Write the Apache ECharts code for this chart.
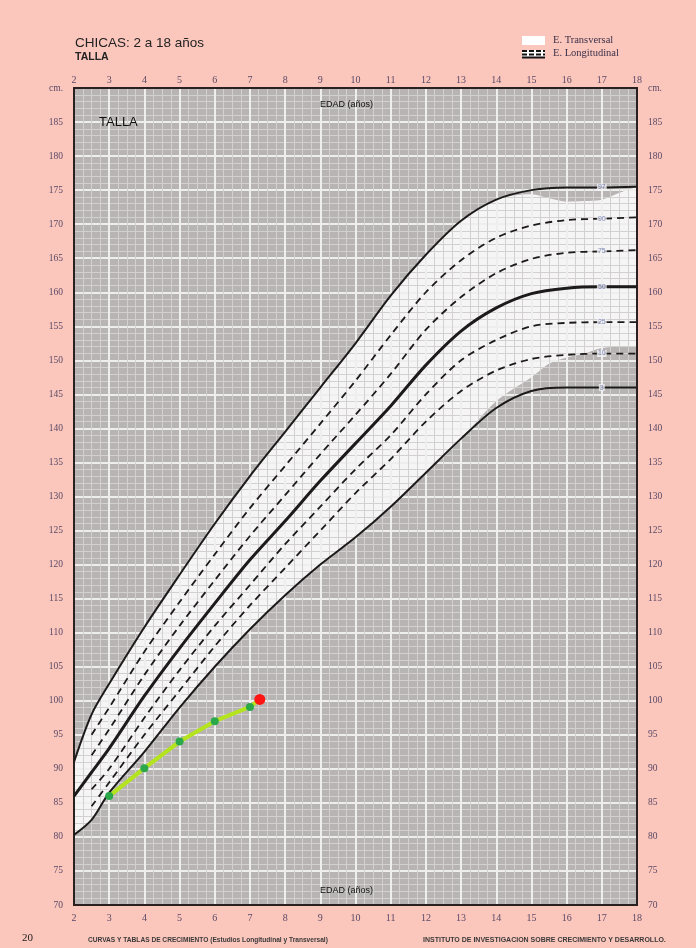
<!DOCTYPE html>
<html>
<head>
<meta charset="utf-8">
<script src="https://cdn.jsdelivr.net/npm/echarts@6/dist/echarts.min.js"></script>
<style>
  html, body { margin: 0; padding: 0; background: #fbc6bc; }
  #chart { width: 696px; height: 948px; }
</style>
</head>
<body>
<div id="chart"></div>
<script>
// Ages (years) at which the reference percentiles are tabulated
const AGES = [2, 2.5, 3, 4, 5, 6, 7, 8, 9, 10, 11, 12, 13, 14, 15, 16, 17, 18];

// Height percentiles, girls 2-18 years (cm); null = curve not drawn at that age
const P97 = [91.0, 98.0, 102.5, 110.8, 118.5, 126.0, 133.0, 139.5, 146.0, 152.5, 159.5, 165.5, 170.5, 173.6, 175.0, 175.4, 175.4, 175.5];
const P90 = [null, 95.0, 99.0, 107.2, 114.5, 121.5, 128.3, 134.5, 140.7, 147.0, 153.7, 160.0, 164.7, 168.0, 169.8, 170.6, 170.8, 171.0];
const P75 = [null, 92.0, 95.8, 103.8, 111.0, 117.7, 124.2, 130.2, 136.2, 142.0, 148.0, 154.5, 159.3, 162.8, 164.9, 165.8, 166.0, 166.2];
const P50 = [86.0, 89.5, 93.0, 100.7, 107.7, 114.3, 120.7, 126.4, 132.3, 137.8, 143.3, 149.3, 154.3, 157.7, 159.8, 160.6, 160.8, 160.8];
const P25 = [null, 87.0, 90.0, 97.5, 104.5, 111.0, 117.0, 123.0, 128.5, 134.0, 139.0, 145.0, 150.0, 153.0, 155.0, 155.5, 155.6, 155.6];
const P10 = [null, 84.5, 88.0, 95.0, 101.5, 108.0, 114.0, 119.5, 125.0, 130.5, 135.5, 141.0, 145.5, 148.5, 150.2, 150.8, 151.0, 151.0];
const P3  = [80.3, 82.5, 86.5, 92.5, 99.0, 105.0, 110.5, 115.5, 120.0, 124.0, 128.5, 133.5, 138.5, 143.0, 145.5, 146.0, 146.0, 146.0];
const CURVES = [['97', P97], ['90', P90], ['75', P75], ['50', P50], ['25', P25], ['10', P10], ['3', P3]];

// Cross-sectional study band (upper and lower edge, cm)
const BAND_AGES = [2, 2.5, 3, 4, 5, 6, 7, 8, 9, 10, 11, 12, 13, 14, 15, 15.5, 16, 16.5, 17, 17.5, 18];
const BAND_HI = [91.0, 98.0, 102.5, 110.8, 118.5, 126.0, 133.0, 139.5, 146.0, 152.5, 159.5, 165.5, 170.5, 173.6, 174.4, 173.8, 173.3, 173.4, 173.6, 174.6, 175.5];
const BAND_LO = [80.3, 82.5, 86.5, 92.5, 99.0, 105.0, 110.5, 115.5, 120.0, 124.0, 128.5, 133.5, 138.5, 144.0, 147.5, 149.5, 150.4, 151.0, 151.8, 152.0, 152.0];

// Patient measurements: age (years), height (cm); the last one is the latest visit
const PT_AGES = [3, 4, 5, 6, 7, 7.28];
const PT_HEIGHTS = [86.0, 90.1, 94.0, 97.0, 99.1, 100.2];

// Age at which each curve carries its percentile tag
const LABEL_AGE = 17;

const INK = '#1c1a1a';
const PLOT_BG = '#b9b4b4';
const AXIS_TXT = '#5a4a66';

function pairs(xs, ys) {
  return xs.map((x, i) => [x, ys[i]]).filter(p => p[1] !== null);
}

function curve(name, ys, width, dashed) {
  return {
    type: 'line', name: 'P' + name, data: pairs(AGES, ys),
    smooth: 0.3, symbol: 'none', z: 4, silent: true,
    lineStyle: { color: INK, width, type: dashed ? [7, 5] : 'solid' }
  };
}

const chart = echarts.init(document.getElementById('chart'), null, { renderer: 'canvas' });

const yLabel = v => (v === 190 ? 'cm.' : String(v));
const li = AGES.indexOf(LABEL_AGE);

const option = {
  backgroundColor: '#fbc6bc',
  animation: false,
  grid: {
    left: 74, right: 59, top: 88, bottom: 43,
    show: true, backgroundColor: PLOT_BG, borderColor: '#2a2020', borderWidth: 2, z: 0
  },
  xAxis: [
    {
      type: 'value', min: 2, max: 18, interval: 1, position: 'bottom', z: 3,
      axisLine: { show: true, lineStyle: { color: '#2a2020', width: 2 } },
      axisTick: { show: false },
      minorTick: { show: false, splitNumber: 4 },
      axisLabel: { color: AXIS_TXT, fontFamily: 'Liberation Serif', fontSize: 10, margin: 8 },
      splitLine: { show: true, lineStyle: { color: '#efeeee', width: 2 } },
      minorSplitLine: { show: true, lineStyle: { color: '#d2d0d0', width: 1 } }
    },
    {
      type: 'value', min: 2, max: 18, interval: 1, position: 'top', z: 3,
      axisLine: { show: true, lineStyle: { color: '#2a2020', width: 2 } },
      axisTick: { show: false },
      axisLabel: { color: AXIS_TXT, fontFamily: 'Liberation Serif', fontSize: 10, margin: 3 },
      splitLine: { show: false }
    }
  ],
  yAxis: [
    {
      type: 'value', min: 70, max: 190, interval: 5, position: 'left', z: 3,
      axisLine: { show: true, lineStyle: { color: '#2a2020', width: 2 } },
      axisTick: { show: false },
      minorTick: { show: false, splitNumber: 5 },
      axisLabel: { color: AXIS_TXT, fontFamily: 'Liberation Serif', fontSize: 9.5, margin: 11, formatter: yLabel },
      splitLine: { show: true, lineStyle: { color: '#efeeee', width: 2 } },
      minorSplitLine: { show: true, lineStyle: { color: '#d2d0d0', width: 1 } }
    },
    {
      type: 'value', min: 70, max: 190, interval: 5, position: 'right', z: 3,
      axisLine: { show: true, lineStyle: { color: '#2a2020', width: 2 } },
      axisTick: { show: false },
      axisLabel: { color: AXIS_TXT, fontFamily: 'Liberation Serif', fontSize: 9.5, margin: 11, formatter: yLabel },
      splitLine: { show: false }
    }
  ],
  graphic: [
    { type: 'text', left: 75, top: 36, style: { text: 'CHICAS: 2 a 18 años', font: '13.5px "Liberation Sans"', fill: '#222' } },
    { type: 'text', left: 75, top: 52, style: { text: 'TALLA', font: 'bold 10.5px "Liberation Sans"', fill: '#222' } },
    { type: 'rect', left: 522, top: 36, shape: { width: 23, height: 9 }, style: { fill: '#ffffff' } },
    { type: 'text', left: 553, top: 35, style: { text: 'E. Transversal', font: '10.5px "Liberation Serif"', fill: '#3b3048' } },
    { type: 'rect', left: 522, top: 50, shape: { width: 23, height: 8 }, style: { fill: '#ffffff' } },
    { type: 'line', shape: { x1: 522, y1: 51, x2: 545, y2: 51 }, style: { stroke: '#111', lineWidth: 2, lineDash: [5, 2] } },
    { type: 'line', shape: { x1: 522, y1: 54.5, x2: 545, y2: 54.5 }, style: { stroke: '#111', lineWidth: 2, lineDash: [5, 2] } },
    { type: 'line', shape: { x1: 522, y1: 57.5, x2: 545, y2: 57.5 }, style: { stroke: '#111', lineWidth: 2 } },
    { type: 'text', left: 553, top: 48, style: { text: 'E. Longitudinal', font: '10.5px "Liberation Serif"', fill: '#3b3048' } },
    { type: 'text', left: 99, top: 116, z: 10, style: { text: 'TALLA', font: '13px "Liberation Sans"', fill: '#111' } },
    { type: 'text', left: 320, top: 100, z: 10, style: { text: 'EDAD (años)', font: '9px "Liberation Sans"', fill: '#111' } },
    { type: 'text', left: 320, top: 886, z: 10, style: { text: 'EDAD (años)', font: '9px "Liberation Sans"', fill: '#111' } },
    { type: 'text', left: 22, top: 933, style: { text: '20', font: '11px "Liberation Serif"', fill: '#222' } },
    { type: 'text', left: 88, top: 937, style: { text: 'CURVAS Y TABLAS DE CRECIMIENTO (Estudios Longitudinal y Transversal)', font: 'bold 6.6px "Liberation Sans"', fill: '#3a3a3a' } },
    { type: 'text', left: 423, top: 937, style: { text: 'INSTITUTO DE INVESTIGACION SOBRE CRECIMIENTO Y DESARROLLO.', font: 'bold 7px "Liberation Sans"', fill: '#3a3a3a' } }
  ],
  series: [
    {
      type: 'line', name: 'bandHi', data: pairs(BAND_AGES, BAND_HI),
      smooth: 0.3, symbol: 'none', z: 1, silent: true,
      lineStyle: { width: 0 }, areaStyle: { color: '#f6f5f5', opacity: 1, origin: 'start' }
    },
    {
      type: 'line', name: 'bandLo', data: pairs(BAND_AGES, BAND_LO),
      smooth: 0.3, symbol: 'none', z: 2, silent: true,
      lineStyle: { width: 0 }, areaStyle: { color: PLOT_BG, opacity: 1, origin: 'start' }
    },
    curve('97', P97, 2, false),
    curve('90', P90, 1.8, true),
    curve('75', P75, 1.8, true),
    curve('50', P50, 3, false),
    curve('25', P25, 1.8, true),
    curve('10', P10, 1.8, true),
    curve('3', P3, 2, false),
    {
      // percentile tags sitting on each curve
      type: 'scatter', name: 'tags', z: 5, silent: true, symbolSize: 0,
      data: CURVES.map(([name, ys]) => ({ value: [LABEL_AGE, ys[li]], name })),
      label: {
        show: true, position: 'inside', formatter: p => p.name,
        fontSize: 7, color: '#5d6aa8', fontFamily: 'Liberation Sans',
        backgroundColor: '#f4f2f2', padding: [0, 1]
      }
    },
    {
      type: 'line', name: 'paciente', z: 6, silent: true,
      data: PT_AGES.map((a, i) => ({
        value: [a, PT_HEIGHTS[i]],
        symbolSize: i === PT_AGES.length - 1 ? 11 : 8,
        itemStyle: { color: i === PT_AGES.length - 1 ? '#ff1414' : '#2aa84a' }
      })),
      symbol: 'circle', showAllSymbol: true,
      lineStyle: { color: '#b4e41e', width: 4 },
      itemStyle: { color: '#2aa84a', borderWidth: 0 }
    }
  ]
};

chart.setOption(option);
</script>
</body>
</html>
